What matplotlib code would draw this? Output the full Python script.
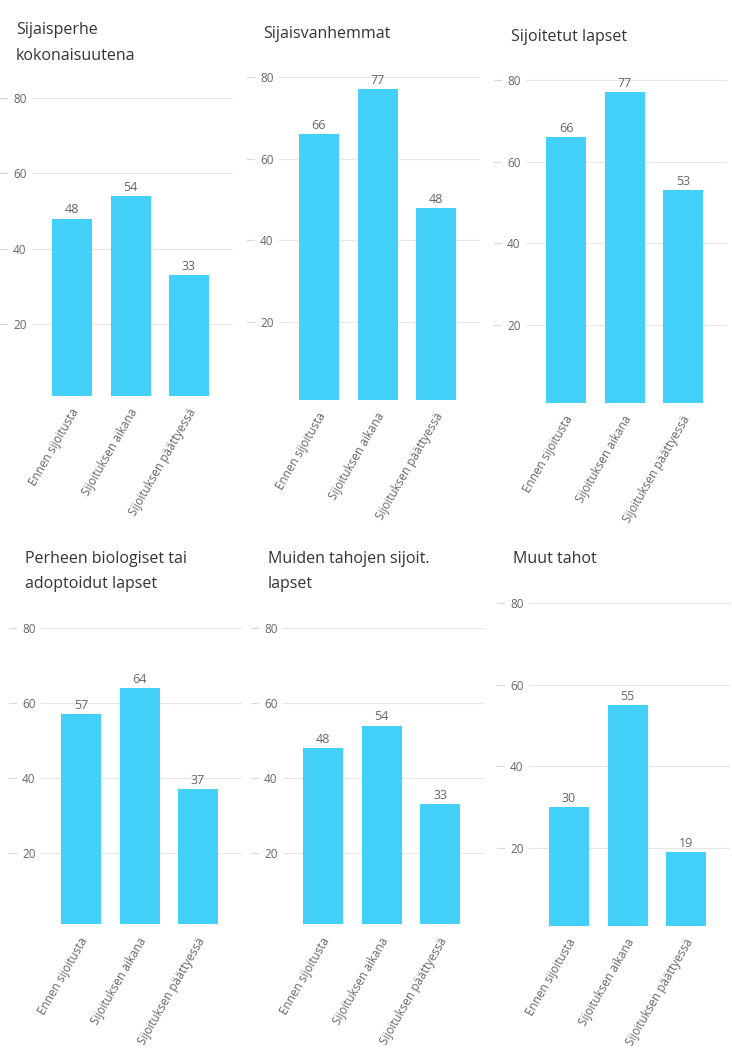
import matplotlib
matplotlib.use("Agg")
import matplotlib.pyplot as plt

plt.rcParams['font.family'] = ['Open Sans', 'DejaVu Sans']

# data
categories = ["Ennen sijoitusta", "Sijoituksen aikana", "Sijoituksen päättyessä"]
titles = ["Sijaisperhe\nkokonaisuutena",
          "Sijaisvanhemmat",
          "Sijoitetut lapset",
          "Perheen biologiset tai\nadoptoidut lapset",
          "Muiden tahojen sijoit.\nlapset",
          "Muut tahot"]
sijaisperhe = [48, 54, 33]
sijaisvanhemmat = [66, 77, 48]
sijoitetut = [66, 77, 53]
biologiset = [57, 64, 37]
muut_sijoit = [48, 54, 33]
muut_tahot = [30, 55, 19]
yticks = [20, 40, 60, 80]

series = [sijaisperhe, sijaisvanhemmat, sijoitetut, biologiset, muut_sijoit, muut_tahot]

# layout in pixels: first bar centre, y of 20, y of 80, title x, title baseline
layout = [
    (72, 324, 98, 16, 34.5),
    (319, 322, 77, 263, 38),
    (566, 325, 80, 511, 41),
    (81, 853, 628, 25, 563),
    (323, 853, 628, 268, 563),
    (569, 848, 603, 513, 563),
]

W, H = 732, 1056
BAR = '#43d1fa'
STEP = 58.5
XLIM = (-0.68, 2.75)
YLIM = (1, 84)

fig = plt.figure(figsize=(W / 100, H / 100), dpi=100)


def draw_panel(vals, title, c0, y20, y80, tx, tb):
    s = (y20 - y80) / 60.0
    bottom_px = y20 + (20 - YLIM[0]) * s
    top_px = y80 - (YLIM[1] - 80) * s
    left_px = c0 + XLIM[0] * STEP
    right_px = c0 + XLIM[1] * STEP
    ax = fig.add_axes([left_px / W, 1 - bottom_px / H,
                       (right_px - left_px) / W, (bottom_px - top_px) / H])
    x = list(range(len(vals)))
    ax.bar(x, vals, width=40 / STEP, color=BAR, zorder=2)
    ax.set_xlim(*XLIM)
    ax.set_ylim(*YLIM)
    for sp in ax.spines.values():
        sp.set_visible(False)
    ax.set_xticks([])
    ax.set_yticks(yticks)
    ax.set_yticklabels([str(t) for t in yticks])
    ax.tick_params(axis='y', length=0, pad=4, labelsize=8.5, labelcolor='#666666')
    ax.yaxis.grid(True, color='#e6e6e6', linewidth=0.8, zorder=0)
    ax.set_axisbelow(True)

    # small dash left of each tick label
    w = right_px - left_px
    for t in yticks:
        ax.plot([-32 / w, -25 / w], [t, t], color='#d9d9d9', lw=0.8,
                transform=ax.get_yaxis_transform(), clip_on=False)

    for i, v in enumerate(vals):
        ax.annotate(str(v), xy=(i, v), xytext=(0, 1.5), textcoords='offset points',
                    ha='center', va='bottom', fontsize=9, color='#666666')
        ax.annotate(categories[i], xy=(i, 0), xycoords=('data', 'axes fraction'),
                    xytext=(3, -10), textcoords='offset points', rotation=60,
                    rotation_mode='anchor', ha='right', va='center',
                    fontsize=8.5, color='#666666')

    for k, line in enumerate(title.split('\n')):
        fig.text(tx / W, 1 - (tb + 25 * k) / H, line, fontsize=11.5,
                 color='#333333', ha='left', va='baseline')


for vals, title, lay in zip(series, titles, layout):
    draw_panel(vals, title, *lay)

fig.savefig('out.png', dpi=100, facecolor='white')
